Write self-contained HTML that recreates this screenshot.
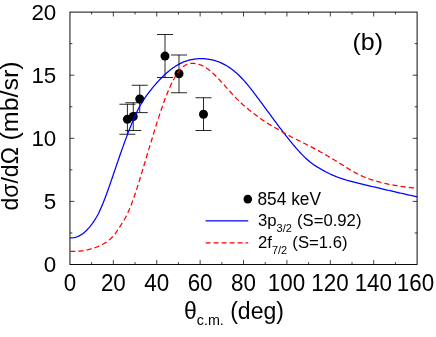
<!DOCTYPE html>
<html><head><meta charset="utf-8"><title>chart</title>
<style>
html,body{margin:0;padding:0;background:#fff;}
body{width:436px;height:337px;overflow:hidden;}
svg{display:block;}
text{font-family:"Liberation Sans",sans-serif;fill:#000;}
</style></head><body>
<svg width="436" height="337" viewBox="0 0 436 337">
<rect x="0" y="0" width="436" height="337" fill="#fff"/>

<rect x="69.95" y="12.1" width="347.15000000000003" height="252.4" fill="none" stroke="#000" stroke-width="0.95"/>
<path d="M91.65,264.5 v-2.4 M91.65,12.1 v2.4 M113.34,264.5 v-4.4 M113.34,12.1 v4.4 M135.04,264.5 v-2.4 M135.04,12.1 v2.4 M156.74,264.5 v-4.4 M156.74,12.1 v4.4 M178.43,264.5 v-2.4 M178.43,12.1 v2.4 M200.13,264.5 v-4.4 M200.13,12.1 v4.4 M221.83,264.5 v-2.4 M221.83,12.1 v2.4 M243.53,264.5 v-4.4 M243.53,12.1 v4.4 M265.22,264.5 v-2.4 M265.22,12.1 v2.4 M286.92,264.5 v-4.4 M286.92,12.1 v4.4 M308.62,264.5 v-2.4 M308.62,12.1 v2.4 M330.31,264.5 v-4.4 M330.31,12.1 v4.4 M352.01,264.5 v-2.4 M352.01,12.1 v2.4 M373.71,264.5 v-4.4 M373.71,12.1 v4.4 M395.40,264.5 v-2.4 M395.40,12.1 v2.4 M69.95,232.95 h2.4 M417.1,232.95 h-2.4 M69.95,201.40 h4.4 M417.1,201.40 h-4.4 M69.95,169.85 h2.4 M417.1,169.85 h-2.4 M69.95,138.30 h4.4 M417.1,138.30 h-4.4 M69.95,106.75 h2.4 M417.1,106.75 h-2.4 M69.95,75.20 h4.4 M417.1,75.20 h-4.4 M69.95,43.65 h2.4 M417.1,43.65 h-2.4" stroke="#000" stroke-width="0.75" fill="none"/>
<path d="M127.4,104.25 V134.25 M119.4,104.25 h16 M119.4,134.25 h16 M133.25,102.75 V130.5 M125.25,102.75 h16 M125.25,130.5 h16 M139.75,85.25 V112.6 M131.75,85.25 h16 M131.75,112.6 h16 M165.0,34.5 V77.5 M157.0,34.5 h16 M157.0,77.5 h16 M179.0,55.0 V92.75 M171.0,55.0 h16 M171.0,92.75 h16 M203.5,97.75 V130.5 M195.5,97.75 h16 M195.5,130.5 h16" stroke="#000" stroke-width="0.85" fill="none"/>
<circle cx="127.4" cy="119.3" r="4.5" fill="#000"/>
<circle cx="133.25" cy="116.5" r="4.5" fill="#000"/>
<circle cx="139.75" cy="99.0" r="4.5" fill="#000"/>
<circle cx="165.0" cy="56.1" r="4.5" fill="#000"/>
<circle cx="179.0" cy="73.8" r="4.5" fill="#000"/>
<circle cx="203.5" cy="114.25" r="4.5" fill="#000"/>
<path d="M70.10,237.90 L71.10,237.90 L72.10,237.85 L73.10,237.75 L74.10,237.59 L75.10,237.38 L76.10,237.11 L77.10,236.77 L78.10,236.38 L79.10,235.92 L80.10,235.39 L81.10,234.80 L82.10,234.14 L83.10,233.41 L84.10,232.61 L85.10,231.74 L86.10,230.80 L87.10,229.78 L88.10,228.70 L89.10,227.56 L90.10,226.36 L91.10,225.10 L92.10,223.79 L93.10,222.41 L94.10,220.96 L95.10,219.43 L96.10,217.79 L97.10,216.05 L98.10,214.19 L99.10,212.20 L100.10,210.09 L101.10,207.86 L102.10,205.53 L103.10,203.09 L104.10,200.57 L105.10,197.96 L106.10,195.29 L107.10,192.54 L108.10,189.75 L109.10,186.91 L110.10,184.02 L111.10,181.11 L112.10,178.18 L113.10,175.24 L114.10,172.29 L115.10,169.35 L116.10,166.42 L117.10,163.50 L118.10,160.59 L119.10,157.70 L120.10,154.82 L121.10,151.97 L122.10,149.14 L123.10,146.34 L124.10,143.57 L125.10,140.83 L126.10,138.13 L127.10,135.46 L128.10,132.84 L129.10,130.26 L130.10,127.72 L131.10,125.23 L132.10,122.80 L133.10,120.42 L134.10,118.11 L135.10,115.87 L136.10,113.70 L137.10,111.60 L138.10,109.59 L139.10,107.66 L140.10,105.81 L141.10,104.04 L142.10,102.35 L143.10,100.72 L144.10,99.16 L145.10,97.65 L146.10,96.20 L147.10,94.80 L148.10,93.44 L149.10,92.13 L150.10,90.85 L151.10,89.59 L152.10,88.36 L153.10,87.16 L154.10,85.97 L155.10,84.80 L156.10,83.65 L157.10,82.52 L158.10,81.42 L159.10,80.33 L160.10,79.27 L161.10,78.24 L162.10,77.23 L163.10,76.24 L164.10,75.28 L165.10,74.34 L166.10,73.43 L167.10,72.55 L168.10,71.70 L169.10,70.87 L170.10,70.07 L171.10,69.30 L172.10,68.55 L173.10,67.83 L174.10,67.14 L175.10,66.48 L176.10,65.85 L177.10,65.24 L178.10,64.66 L179.10,64.11 L180.10,63.59 L181.10,63.10 L182.10,62.64 L183.10,62.20 L184.10,61.79 L185.10,61.41 L186.10,61.06 L187.10,60.74 L188.10,60.44 L189.10,60.17 L190.10,59.93 L191.10,59.72 L192.10,59.53 L193.10,59.36 L194.10,59.20 L195.10,59.07 L196.10,58.94 L197.10,58.82 L198.10,58.72 L199.10,58.64 L200.10,58.59 L201.10,58.56 L202.10,58.57 L203.10,58.61 L204.10,58.68 L205.10,58.79 L206.10,58.91 L207.10,59.05 L208.10,59.20 L209.10,59.36 L210.10,59.53 L211.10,59.72 L212.10,59.93 L213.10,60.16 L214.10,60.41 L215.10,60.69 L216.10,60.98 L217.10,61.30 L218.10,61.65 L219.10,62.03 L220.10,62.44 L221.10,62.87 L222.10,63.34 L223.10,63.83 L224.10,64.35 L225.10,64.90 L226.10,65.48 L227.10,66.08 L228.10,66.71 L229.10,67.37 L230.10,68.06 L231.10,68.77 L232.10,69.51 L233.10,70.28 L234.10,71.07 L235.10,71.90 L236.10,72.75 L237.10,73.63 L238.10,74.54 L239.10,75.48 L240.10,76.46 L241.10,77.46 L242.10,78.50 L243.10,79.57 L244.10,80.68 L245.10,81.81 L246.10,82.98 L247.10,84.17 L248.10,85.39 L249.10,86.62 L250.10,87.88 L251.10,89.15 L252.10,90.44 L253.10,91.74 L254.10,93.05 L255.10,94.36 L256.10,95.68 L257.10,97.01 L258.10,98.34 L259.10,99.68 L260.10,101.02 L261.10,102.37 L262.10,103.72 L263.10,105.08 L264.10,106.43 L265.10,107.79 L266.10,109.16 L267.10,110.52 L268.10,111.88 L269.10,113.24 L270.10,114.61 L271.10,115.97 L272.10,117.33 L273.10,118.68 L274.10,120.04 L275.10,121.39 L276.10,122.74 L277.10,124.08 L278.10,125.42 L279.10,126.76 L280.10,128.09 L281.10,129.41 L282.10,130.72 L283.10,132.03 L284.10,133.33 L285.10,134.62 L286.10,135.90 L287.10,137.17 L288.10,138.44 L289.10,139.69 L290.10,140.92 L291.10,142.15 L292.10,143.36 L293.10,144.56 L294.10,145.75 L295.10,146.92 L296.10,148.07 L297.10,149.20 L298.10,150.32 L299.10,151.42 L300.10,152.51 L301.10,153.57 L302.10,154.61 L303.10,155.63 L304.10,156.63 L305.10,157.60 L306.10,158.54 L307.10,159.45 L308.10,160.33 L309.10,161.18 L310.10,162.00 L311.10,162.78 L312.10,163.53 L313.10,164.25 L314.10,164.94 L315.10,165.61 L316.10,166.25 L317.10,166.88 L318.10,167.48 L319.10,168.08 L320.10,168.66 L321.10,169.23 L322.10,169.80 L323.10,170.35 L324.10,170.91 L325.10,171.45 L326.10,171.98 L327.10,172.51 L328.10,173.02 L329.10,173.52 L330.10,174.00 L331.10,174.47 L332.10,174.92 L333.10,175.36 L334.10,175.79 L335.10,176.20 L336.10,176.60 L337.10,176.99 L338.10,177.37 L339.10,177.74 L340.10,178.09 L341.10,178.43 L342.10,178.77 L343.10,179.09 L344.10,179.41 L345.10,179.72 L346.10,180.02 L347.10,180.31 L348.10,180.60 L349.10,180.88 L350.10,181.15 L351.10,181.42 L352.10,181.68 L353.10,181.94 L354.10,182.20 L355.10,182.45 L356.10,182.70 L357.10,182.95 L358.10,183.19 L359.10,183.43 L360.10,183.68 L361.10,183.91 L362.10,184.15 L363.10,184.39 L364.10,184.62 L365.10,184.86 L366.10,185.09 L367.10,185.33 L368.10,185.56 L369.10,185.80 L370.10,186.03 L371.10,186.27 L372.10,186.50 L373.10,186.74 L374.10,186.97 L375.10,187.21 L376.10,187.45 L377.10,187.68 L378.10,187.92 L379.10,188.15 L380.10,188.39 L381.10,188.62 L382.10,188.85 L383.10,189.09 L384.10,189.32 L385.10,189.56 L386.10,189.79 L387.10,190.02 L388.10,190.26 L389.10,190.49 L390.10,190.72 L391.10,190.95 L392.10,191.19 L393.10,191.42 L394.10,191.65 L395.10,191.88 L396.10,192.11 L397.10,192.34 L398.10,192.57 L399.10,192.79 L400.10,193.02 L401.10,193.25 L402.10,193.48 L403.10,193.70 L404.10,193.93 L405.10,194.15 L406.10,194.37 L407.10,194.60 L408.10,194.82 L409.10,195.04 L410.10,195.26 L411.10,195.48 L412.10,195.70 L413.10,195.92 L414.10,196.13 L415.10,196.35 L416.10,196.56 L417.10,196.78 L417.20,196.80" fill="none" stroke="#0000ff" stroke-width="1.25" stroke-linejoin="round"/>
<path d="M70.10,251.40 L71.10,251.44 L72.10,251.46 L73.10,251.46 L74.10,251.45 L75.10,251.42 L76.10,251.37 L77.10,251.31 L78.10,251.24 L79.10,251.14 L80.10,251.03 L81.10,250.91 L82.10,250.77 L83.10,250.61 L84.10,250.44 L85.10,250.26 L86.10,250.06 L87.10,249.84 L88.10,249.62 L89.10,249.37 L90.10,249.12 L91.10,248.84 L92.10,248.56 L93.10,248.26 L94.10,247.94 L95.10,247.60 L96.10,247.25 L97.10,246.87 L98.10,246.47 L99.10,246.04 L100.10,245.59 L101.10,245.11 L102.10,244.61 L103.10,244.07 L104.10,243.50 L105.10,242.89 L106.10,242.25 L107.10,241.56 L108.10,240.82 L109.10,240.02 L110.10,239.16 L111.10,238.24 L112.10,237.25 L113.10,236.18 L114.10,235.02 L115.10,233.77 L116.10,232.42 L117.10,230.98 L118.10,229.46 L119.10,227.91 L120.10,226.34 L121.10,224.79 L122.10,223.22 L123.10,221.62 L124.10,219.96 L125.10,218.22 L126.10,216.38 L127.10,214.41 L128.10,212.30 L129.10,210.04 L130.10,207.64 L131.10,205.12 L132.10,202.47 L133.10,199.72 L134.10,196.87 L135.10,193.93 L136.10,190.92 L137.10,187.83 L138.10,184.68 L139.10,181.48 L140.10,178.24 L141.10,174.97 L142.10,171.67 L143.10,168.36 L144.10,165.04 L145.10,161.71 L146.10,158.38 L147.10,155.05 L148.10,151.71 L149.10,148.39 L150.10,145.07 L151.10,141.76 L152.10,138.47 L153.10,135.20 L154.10,131.94 L155.10,128.71 L156.10,125.51 L157.10,122.34 L158.10,119.21 L159.10,116.12 L160.10,113.08 L161.10,110.10 L162.10,107.18 L163.10,104.33 L164.10,101.55 L165.10,98.84 L166.10,96.22 L167.10,93.69 L168.10,91.25 L169.10,88.91 L170.10,86.67 L171.10,84.54 L172.10,82.52 L173.10,80.59 L174.10,78.77 L175.10,77.03 L176.10,75.40 L177.10,73.85 L178.10,72.39 L179.10,71.03 L180.10,69.77 L181.10,68.63 L182.10,67.59 L183.10,66.68 L184.10,65.90 L185.10,65.24 L186.10,64.70 L187.10,64.26 L188.10,63.92 L189.10,63.67 L190.10,63.50 L191.10,63.40 L192.10,63.36 L193.10,63.38 L194.10,63.44 L195.10,63.55 L196.10,63.71 L197.10,63.90 L198.10,64.15 L199.10,64.43 L200.10,64.77 L201.10,65.15 L202.10,65.58 L203.10,66.05 L204.10,66.57 L205.10,67.14 L206.10,67.76 L207.10,68.43 L208.10,69.15 L209.10,69.91 L210.10,70.71 L211.10,71.55 L212.10,72.43 L213.10,73.34 L214.10,74.28 L215.10,75.26 L216.10,76.26 L217.10,77.28 L218.10,78.33 L219.10,79.39 L220.10,80.47 L221.10,81.57 L222.10,82.68 L223.10,83.80 L224.10,84.92 L225.10,86.05 L226.10,87.18 L227.10,88.31 L228.10,89.43 L229.10,90.56 L230.10,91.67 L231.10,92.77 L232.10,93.86 L233.10,94.94 L234.10,96.00 L235.10,97.05 L236.10,98.09 L237.10,99.11 L238.10,100.11 L239.10,101.09 L240.10,102.06 L241.10,103.01 L242.10,103.93 L243.10,104.84 L244.10,105.73 L245.10,106.60 L246.10,107.45 L247.10,108.28 L248.10,109.10 L249.10,109.91 L250.10,110.71 L251.10,111.49 L252.10,112.27 L253.10,113.03 L254.10,113.79 L255.10,114.55 L256.10,115.30 L257.10,116.05 L258.10,116.79 L259.10,117.52 L260.10,118.25 L261.10,118.97 L262.10,119.67 L263.10,120.37 L264.10,121.05 L265.10,121.72 L266.10,122.37 L267.10,123.01 L268.10,123.63 L269.10,124.24 L270.10,124.84 L271.10,125.42 L272.10,126.00 L273.10,126.56 L274.10,127.13 L275.10,127.69 L276.10,128.25 L277.10,128.81 L278.10,129.37 L279.10,129.94 L280.10,130.52 L281.10,131.10 L282.10,131.69 L283.10,132.28 L284.10,132.86 L285.10,133.43 L286.10,134.00 L287.10,134.55 L288.10,135.10 L289.10,135.64 L290.10,136.18 L291.10,136.71 L292.10,137.23 L293.10,137.75 L294.10,138.26 L295.10,138.77 L296.10,139.28 L297.10,139.78 L298.10,140.28 L299.10,140.78 L300.10,141.28 L301.10,141.78 L302.10,142.28 L303.10,142.78 L304.10,143.27 L305.10,143.78 L306.10,144.28 L307.10,144.78 L308.10,145.29 L309.10,145.80 L310.10,146.32 L311.10,146.84 L312.10,147.36 L313.10,147.89 L314.10,148.42 L315.10,148.96 L316.10,149.50 L317.10,150.04 L318.10,150.59 L319.10,151.14 L320.10,151.69 L321.10,152.25 L322.10,152.81 L323.10,153.37 L324.10,153.94 L325.10,154.52 L326.10,155.09 L327.10,155.67 L328.10,156.25 L329.10,156.84 L330.10,157.43 L331.10,158.02 L332.10,158.62 L333.10,159.22 L334.10,159.82 L335.10,160.43 L336.10,161.03 L337.10,161.65 L338.10,162.26 L339.10,162.88 L340.10,163.50 L341.10,164.12 L342.10,164.75 L343.10,165.38 L344.10,166.00 L345.10,166.63 L346.10,167.26 L347.10,167.88 L348.10,168.50 L349.10,169.11 L350.10,169.72 L351.10,170.32 L352.10,170.91 L353.10,171.49 L354.10,172.06 L355.10,172.61 L356.10,173.15 L357.10,173.68 L358.10,174.19 L359.10,174.69 L360.10,175.17 L361.10,175.64 L362.10,176.10 L363.10,176.55 L364.10,176.98 L365.10,177.39 L366.10,177.80 L367.10,178.19 L368.10,178.56 L369.10,178.93 L370.10,179.28 L371.10,179.62 L372.10,179.94 L373.10,180.26 L374.10,180.57 L375.10,180.86 L376.10,181.15 L377.10,181.43 L378.10,181.70 L379.10,181.97 L380.10,182.23 L381.10,182.48 L382.10,182.72 L383.10,182.96 L384.10,183.20 L385.10,183.42 L386.10,183.64 L387.10,183.86 L388.10,184.07 L389.10,184.28 L390.10,184.48 L391.10,184.67 L392.10,184.86 L393.10,185.05 L394.10,185.23 L395.10,185.41 L396.10,185.58 L397.10,185.74 L398.10,185.90 L399.10,186.06 L400.10,186.22 L401.10,186.37 L402.10,186.51 L403.10,186.65 L404.10,186.79 L405.10,186.93 L406.10,187.06 L407.10,187.18 L408.10,187.31 L409.10,187.43 L410.10,187.55 L411.10,187.66 L412.10,187.77 L413.10,187.88 L414.10,187.99 L415.10,188.09 L416.10,188.19 L417.10,188.29 L417.20,188.30" fill="none" stroke="#ff0000" stroke-width="1.25" stroke-dasharray="5.25,3.02" stroke-linejoin="round"/>
<g style="will-change:transform">
<text transform="translate(56.30,271.90) scale(1,1.02)" font-size="22.4" text-anchor="end">0</text>
<text transform="translate(56.30,208.80) scale(1,1.02)" font-size="22.4" text-anchor="end">5</text>
<text transform="translate(56.30,145.70) scale(1,1.02)" font-size="22.4" text-anchor="end">10</text>
<text transform="translate(56.30,82.60) scale(1,1.02)" font-size="22.4" text-anchor="end">15</text>
<text transform="translate(56.30,19.50) scale(1,1.02)" font-size="22.4" text-anchor="end">20</text>
<text transform="translate(69.95,291.00) scale(1,1.03)" font-size="22.4" text-anchor="middle">0</text>
<text transform="translate(113.34,291.00) scale(1,1.03)" font-size="22.4" text-anchor="middle">20</text>
<text transform="translate(156.74,291.00) scale(1,1.03)" font-size="22.4" text-anchor="middle">40</text>
<text transform="translate(200.13,291.00) scale(1,1.03)" font-size="22.4" text-anchor="middle">60</text>
<text transform="translate(243.53,291.00) scale(1,1.03)" font-size="22.4" text-anchor="middle">80</text>
<text transform="translate(286.52,291.00) scale(1,1.03)" font-size="22.4" text-anchor="middle">100</text>
<text transform="translate(329.91,291.00) scale(1,1.03)" font-size="22.4" text-anchor="middle">120</text>
<text transform="translate(373.31,291.00) scale(1,1.03)" font-size="22.4" text-anchor="middle">140</text>
<text transform="translate(415.50,291.00) scale(1,1.03)" font-size="22.4" text-anchor="middle">160</text>
<text transform="translate(17.60,210.60) rotate(-90) scale(0.96,1)" font-size="24" text-anchor="start">dσ/dΩ</text>
<text transform="translate(17.60,140.50) rotate(-90) scale(1.042,1)" font-size="24" text-anchor="start">(mb/sr)</text>
<text transform="translate(184.00,318.80) scale(1,1.0)" font-size="23" text-anchor="start">θ<tspan font-size="14.3" dy="6.4">c.m.</tspan><tspan dy="-6.4" font-size="23"> (deg)</tspan></text>
<text transform="translate(352.50,50.00) scale(1,0.99)" font-size="25" text-anchor="start">(b)</text>
<circle cx="247.8" cy="199.1" r="4.3" fill="#000"/>
<text transform="translate(257.50,204.70) scale(1,1.03)" font-size="17.3" text-anchor="start">854 keV</text>
<path d="M205.6,220.9 H248.2" stroke="#0000ff" stroke-width="1.1"/>
<text transform="translate(258.00,226.00) scale(1,1.03)" font-size="16.7" text-anchor="start">3p<tspan font-size="11" dy="5.9">3/2</tspan><tspan dy="-5.9" dx="0.5" font-size="16.7"> (S=0.92)</tspan></text>
<path d="M205.6,242.9 H248.2" stroke="#ff0000" stroke-width="1.1" stroke-dasharray="5,3"/>
<text transform="translate(258.00,248.20) scale(1,1.03)" font-size="16.7" text-anchor="start">2f<tspan font-size="11" dy="5.9">7/2</tspan><tspan dy="-5.9" dx="0.5" font-size="16.7"> (S=1.6)</tspan></text>
</g>
</svg></body></html>
